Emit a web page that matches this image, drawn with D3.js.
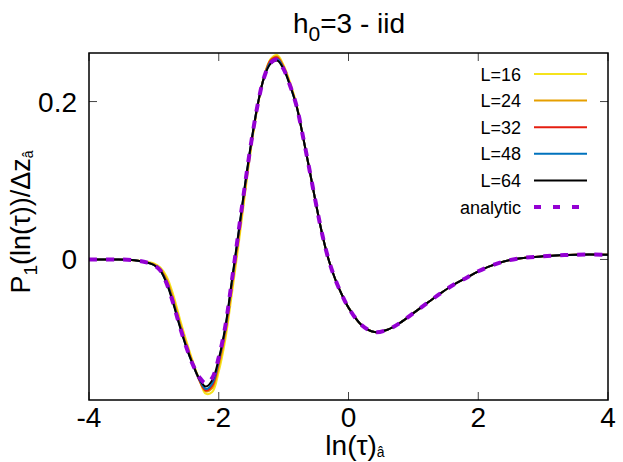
<!DOCTYPE html>
<html>
<head>
<meta charset="utf-8">
<script src="https://cdn.jsdelivr.net/npm/d3@7"></script>
<style>
    body { margin: 0; background: #fff; }
    svg { display: block; font-family: "Liberation Sans", Arial, sans-serif; }
</style>
</head>
<body>
<div id="chart"></div>
<script>
// Sample points along ln(tau)
const xs = [-4, -3.6, -3.3, -3.1, -3.0, -2.9, -2.8, -2.7, -2.6, -2.5, -2.4, -2.3, -2.2, -2.1, -2.0, -1.9, -1.8, -1.7,
    -1.6, -1.5, -1.4, -1.3, -1.2, -1.1, -1.0, -0.9, -0.8, -0.7, -0.6, -0.5, -0.4, -0.3, -0.2, -0.1, 0,
    0.2, 0.4, 0.6, 0.8, 1.0, 1.2, 1.4, 1.6, 1.8, 2.0, 2.3, 2.6, 3.0, 3.5, 4.0];

// Right part of the curve, shared by every series (x >= -0.7)
const tail = [0.155, 0.113, 0.070, 0.030, -0.002, -0.026, -0.045, -0.061,
    -0.083, -0.092, -0.089, -0.080, -0.068, -0.056, -0.044, -0.033, -0.024, -0.015, -0.005, 0.001, 0.004, 0.006, 0.006];

const yL16 = [0, 0, -0.001, -0.003, -0.005, -0.010, -0.022, -0.045, -0.075, -0.103, -0.129, -0.152, -0.170, -0.168, -0.142,
    -0.102, -0.045, 0.015, 0.080, 0.142, 0.194, 0.232, 0.254, 0.259, 0.246, 0.224, 0.196, ...tail];
const yL24 = [0, 0, -0.001, -0.004, -0.006, -0.012, -0.026, -0.050, -0.080, -0.107, -0.131, -0.152, -0.167, -0.163, -0.135,
    -0.095, -0.038, 0.022, 0.085, 0.144, 0.195, 0.232, 0.253, 0.257, 0.244, 0.222, 0.195, ...tail];
const yL32 = [0, 0, -0.001, -0.004, -0.007, -0.013, -0.029, -0.054, -0.083, -0.110, -0.132, -0.153, -0.166, -0.160, -0.130,
    -0.090, -0.032, 0.028, 0.089, 0.146, 0.196, 0.231, 0.252, 0.256, 0.243, 0.221, 0.194, ...tail];
const yL48 = [0, 0, -0.001, -0.004, -0.007, -0.014, -0.030, -0.055, -0.084, -0.111, -0.133, -0.152, -0.164, -0.157, -0.128,
    -0.088, -0.030, 0.030, 0.091, 0.147, 0.196, 0.231, 0.250, 0.254, 0.242, 0.220, 0.194, ...tail];
const yL64 = [0, 0, -0.001, -0.004, -0.007, -0.014, -0.031, -0.056, -0.085, -0.111, -0.133, -0.151, -0.161, -0.153, -0.126,
    -0.086, -0.028, 0.031, 0.092, 0.148, 0.196, 0.231, 0.248, 0.252, 0.241, 0.220, 0.194, ...tail];
const yAnalytic = [0, 0, -0.001, -0.004, -0.007, -0.014, -0.031, -0.056, -0.085, -0.111, -0.133, -0.149, -0.157, -0.150, -0.124,
    -0.085, -0.028, 0.032, 0.092, 0.148, 0.196, 0.231, 0.249, 0.253, 0.241, 0.220, 0.194, ...tail];

const seriesNames = ["L=16", "L=24", "L=32", "L=48", "L=64", "analytic"];
const seriesValues = [yL16, yL24, yL32, yL48, yL64, yAnalytic];
const seriesColors = ["#f5e31c", "#e69f00", "#e51e10", "#0072bd", "#000000", "#9400d3"];

const xTicks = [-4, -2, 0, 2, 4];
const yTicks = [0, 0.2];

const width = 623, height = 462;
const margin = {top: 53, right: 15, bottom: 62, left: 89};

const svg = d3.select("#chart")
    .append("svg")
    .attr("width", width)
    .attr("height", height);

const x = d3.scaleLinear()
    .domain([-4, 4])
    .range([margin.left, width - margin.right]);

const y = d3.scaleLinear()
    .domain([-0.178, 0.2615])
    .range([height - margin.bottom, margin.top]);

svg.append("clipPath")
    .attr("id", "clip")
    .append("rect")
    .attr("x", margin.left)
    .attr("y", margin.top)
    .attr("width", x.range()[1] - x.range()[0])
    .attr("height", y.range()[0] - y.range()[1]);

// ticks (inside, mirrored)
const tickLen = 8;
const ticks = svg.append("g").attr("stroke", "#444").attr("stroke-width", 1);
xTicks.forEach(t => {
    ticks.append("line").attr("x1", x(t)).attr("x2", x(t))
        .attr("y1", y.range()[0]).attr("y2", y.range()[0] - tickLen);
    ticks.append("line").attr("x1", x(t)).attr("x2", x(t))
        .attr("y1", y.range()[1]).attr("y2", y.range()[1] + tickLen);
});
yTicks.forEach(t => {
    ticks.append("line").attr("y1", y(t)).attr("y2", y(t))
        .attr("x1", x.range()[0]).attr("x2", x.range()[0] + tickLen);
    ticks.append("line").attr("y1", y(t)).attr("y2", y(t))
        .attr("x1", x.range()[1]).attr("x2", x.range()[1] - tickLen);
});

// tick labels
svg.append("g")
    .attr("font-size", 28)
    .attr("text-anchor", "middle")
    .selectAll("text")
    .data(xTicks)
    .join("text")
    .attr("x", d => x(d))
    .attr("y", 427)
    .text(d => d);

svg.append("g")
    .attr("font-size", 28)
    .attr("text-anchor", "end")
    .selectAll("text")
    .data(yTicks)
    .join("text")
    .attr("x", 77)
    .attr("y", d => y(d) + 10)
    .text(d => d);

// curves
const line = d3.line()
    .x((d, i) => x(xs[i]))
    .y(d => y(d))
    .curve(d3.curveCatmullRom.alpha(0.5));

const curves = svg.append("g").attr("clip-path", "url(#clip)").attr("fill", "none");
seriesValues.forEach((vals, i) => {
    const analytic = i === seriesValues.length - 1;
    curves.append("path")
        .attr("d", line(vals))
        .attr("stroke", seriesColors[i])
        .attr("stroke-width", analytic ? 4 : 2)
        .attr("stroke-dasharray", analytic ? "8,9" : null);
});

// frame
svg.append("rect")
    .attr("x", margin.left)
    .attr("y", margin.top)
    .attr("width", x.range()[1] - x.range()[0])
    .attr("height", y.range()[0] - y.range()[1])
    .attr("fill", "none")
    .attr("stroke", "#000")
    .attr("stroke-width", 1.5);

// legend
const legend = svg.append("g")
    .attr("font-size", 18)
    .selectAll("g")
    .data(seriesNames)
    .join("g")
    .attr("transform", (d, i) => `translate(0,${74 + i * 26.6})`);

legend.append("text")
    .attr("x", 521)
    .attr("y", 6.5)
    .attr("text-anchor", "end")
    .text(d => d);

legend.append("line")
    .attr("x1", 534)
    .attr("x2", (d, i) => i === 5 ? 582 : 587)
    .attr("stroke", (d, i) => seriesColors[i])
    .attr("stroke-width", (d, i) => i === 5 ? 4 : 2)
    .attr("stroke-dasharray", (d, i) => i === 5 ? "7,12" : null);

// title
const title = svg.append("text")
    .attr("x", 349)
    .attr("y", 33)
    .attr("font-size", 28)
    .attr("text-anchor", "middle");
title.append("tspan").text("h");
title.append("tspan").attr("font-size", 21).attr("dy", 8).text("0");
title.append("tspan").attr("dy", -8).text("=3 - iid");

// x label
const xLabel = svg.append("text")
    .attr("x", 355)
    .attr("y", 455)
    .attr("font-size", 28)
    .attr("text-anchor", "middle");
xLabel.append("tspan").text("ln(τ)");
xLabel.append("tspan").attr("font-size", 14).attr("dy", 2).text("â");

// y label
const yLabel = svg.append("text")
    .attr("transform", "translate(30,222) rotate(-90)")
    .attr("font-size", 27)
    .attr("text-anchor", "middle");
yLabel.append("tspan").text("P");
yLabel.append("tspan").attr("font-size", 19).attr("dy", 7).text("1");
yLabel.append("tspan").attr("dy", -7).text("(ln(τ))/Δz");
yLabel.append("tspan").attr("font-size", 14).attr("dy", 3).text("â");
</script>
</body>
</html>
